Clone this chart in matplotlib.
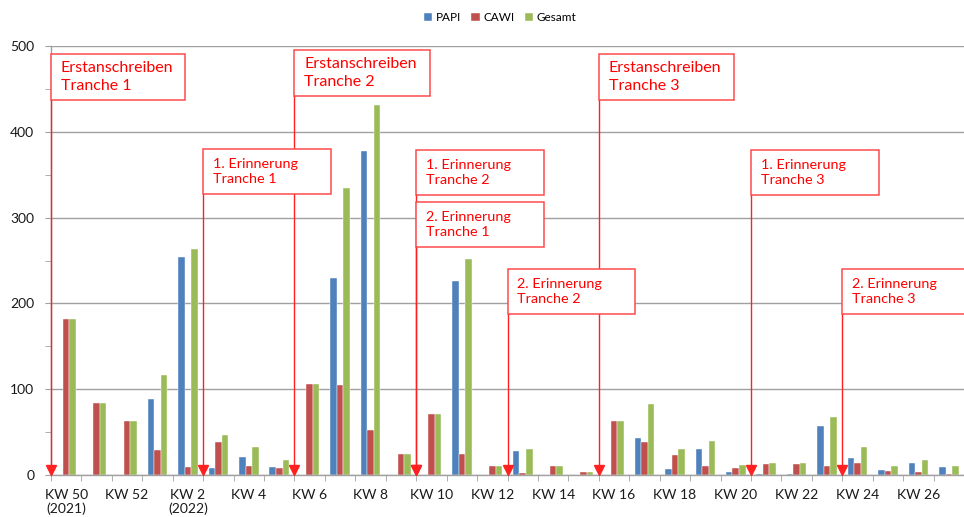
"""
Rücklauf pro Kalenderwoche (PAPI / CAWI / Gesamt) mit Markierung der Anschreiben.
"""
import numpy as np
import matplotlib
matplotlib.use("Agg")
import matplotlib.pyplot as plt
from matplotlib.patches import Rectangle

plt.rcParams["font.family"] = ["Lato", "DejaVu Sans"]

# Kalenderwochen KW 50 (2021) bis KW 27 (2022)
weeks = ["KW 50", "KW 51", "KW 52"] + [f"KW {k}" for k in range(1, 28)]
tick_labels = {"KW 50": "KW 50\n(2021)", "KW 2": "KW 2\n(2022)"}

papi = [0, 0, 0, 89, 254, 8, 21, 9, 0, 230, 378, 0, 0, 226, 0, 28, 0, 0, 0,
        43, 7, 30, 4, 1, 1, 57, 20, 6, 14, 9]
cawi = [182, 84, 63, 29, 9, 39, 11, 8, 106, 105, 52, 24, 71, 25, 11, 2, 11, 3,
        63, 39, 23, 11, 8, 13, 13, 11, 14, 5, 3, 1]
gesamt = [182, 84, 63, 117, 263, 47, 33, 18, 106, 335, 431, 24, 71, 252, 11, 30,
          11, 3, 63, 83, 30, 40, 12, 14, 14, 68, 33, 11, 17, 10]

# Versandtermine: Text, Position (Grenze zwischen KW), Box unten/oben, Boxbreite,
# Schriftgröße, Zeilenabstand
mailings = [
    ("Erstanschreiben\nTranche 1", -0.5, 437, 491, 4.4, 11.5, 1.35),
    ("1. Erinnerung\nTranche 1", 4.5, 327, 380, 4.2, 10.4, 1.28),
    ("Erstanschreiben\nTranche 2", 7.5, 442, 495, 4.45, 11.5, 1.35),
    ("1. Erinnerung\nTranche 2", 11.5, 326, 379, 4.2, 10.4, 1.28),
    ("2. Erinnerung\nTranche 1", 11.5, 266, 318, 4.2, 10.4, 1.28),
    ("2. Erinnerung\nTranche 2", 14.5, 188, 240, 4.2, 10.4, 1.28),
    ("Erstanschreiben\nTranche 3", 17.5, 437, 491, 4.45, 11.5, 1.35),
    ("1. Erinnerung\nTranche 3", 22.5, 326, 379, 4.2, 10.4, 1.28),
    ("2. Erinnerung\nTranche 3", 25.5, 188, 240, 4.2, 10.4, 1.28),
]

COLORS = {"PAPI": "#4F81BD", "CAWI": "#C0504D", "Gesamt": "#9BBB59"}
RED = "#FF2020"
GRID = "#A0A0A0"

fig = plt.figure(figsize=(9.64, 5.17), dpi=100)
ax = fig.add_axes([51 / 964, 42 / 517, 913 / 964, 429 / 517])

x = np.arange(len(weeks))
w = 0.215
for off, (name, vals) in zip([-w, 0, w], [("PAPI", papi), ("CAWI", cawi), ("Gesamt", gesamt)]):
    ax.bar(x + off, vals, width=w, color=COLORS[name], label=name,
           edgecolor="white", linewidth=0.3, zorder=2)

ax.set_xlim(-0.5, 29.24)
ax.set_ylim(0, 500)

# Achsen
ax.set_yticks(range(0, 501, 100))
ax.set_yticks(range(50, 500, 100), minor=True)
ax.yaxis.grid(True, which="major", color=GRID, linewidth=1, zorder=0)
ax.set_axisbelow(True)
ax.tick_params(axis="y", which="both", length=4, color=GRID, labelsize=10,
               pad=8, labelcolor="#1a1a1a")

ax.set_xticks(x[::2])
ax.set_xticklabels([tick_labels.get(k, k) for k in weeks[::2]], linespacing=1.12)
ax.set_xticks(np.arange(-0.5, len(weeks), 1), minor=True)
ax.tick_params(axis="x", which="major", length=0, labelsize=10, pad=10,
               labelcolor="#1a1a1a")
ax.tick_params(axis="x", which="minor", length=4, color=GRID)

for side in ["top", "right"]:
    ax.spines[side].set_visible(False)
for side in ["left", "bottom"]:
    ax.spines[side].set_color(GRID)
    ax.spines[side].set_linewidth(1)

# Versandmarkierungen
for text, xpos, y0, y1, bw, fs, ls in mailings:
    ax.plot([xpos, xpos], [y0, 6], color=RED, linewidth=1, zorder=4, clip_on=False)
    ax.plot([xpos], [6], marker="v", color=RED, markersize=6.5, zorder=5, clip_on=False)
    ax.add_patch(Rectangle((xpos, y0), bw, y1 - y0, facecolor="white",
                           edgecolor="#FF4A4A", linewidth=1.1, zorder=6, clip_on=False))
    ax.text(xpos + 0.32, (y0 + y1) / 2, text, color="#FF0000", fontsize=fs,
            va="center", ha="left", linespacing=ls, zorder=7)

fig.legend(loc="center", bbox_to_anchor=(500 / 964, 1 - 17.5 / 517), ncol=3,
           frameon=False, fontsize=8.5, handlelength=0.7, handleheight=0.7,
           handletextpad=0.3, columnspacing=0.9)

fig.savefig("out.png", dpi=100)
